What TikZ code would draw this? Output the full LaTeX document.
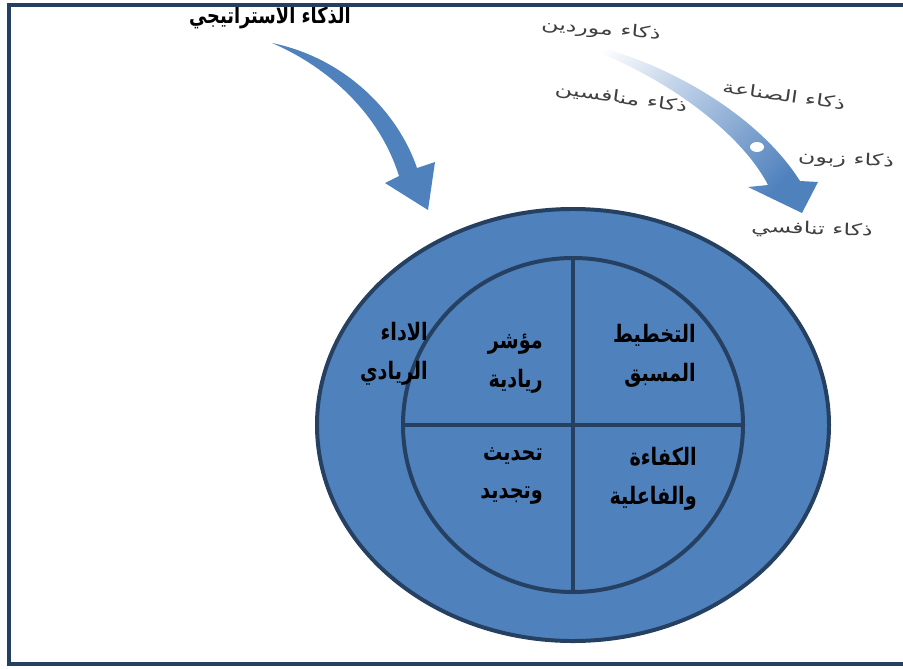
\documentclass[tikz,border=0pt]{standalone}
\usepackage{fontspec}
\newfontfamily\arabicfont[Script=Arabic]{DejaVu Sans}
\TeXXeTstate=1
\usetikzlibrary{shapes.geometric}
\definecolor{ringblue}{HTML}{4F81BD}
\definecolor{ringline}{HTML}{254061}
\definecolor{frameline}{HTML}{243F60}
\newcommand{\artxt}[1]{\scalebox{0.8}[1]{\beginR #1\endR}}
\newcommand{\widetxt}[1]{\scalebox{1.45}[1]{\beginR #1\endR}}
\tikzset{
  ring/.style={
    ellipse, draw=ringline, fill=ringblue,
    line width=3.4pt, inner sep=0pt, outer sep=0pt
  },
  divider/.style={draw=ringline, line width=3.4pt},
  cell/.style={
    font=\arabicfont\bfseries\fontsize{20.5}{33}\selectfont,
    align=right, anchor=north east, inner sep=0pt, text=black
  },
  headline/.style={
    font=\arabicfont\bfseries\fontsize{19}{22}\selectfont,
    inner sep=0pt, text=black
  },
  feed/.style={
    font=\arabicfont\fontsize{14}{16}\selectfont,
    inner sep=0pt, text=black!75
  },
}

\begin{document}
\begin{tikzpicture}[x=0.03cm, y=-0.03cm]
  \useasboundingbox (0,0) rectangle (903,668);

  % ── Rings ────────────────────────────────────────────────────────────────
  \def\cx{573}
  \def\cy{425}
  \node[ring, minimum width=15.36cm, minimum height=12.96cm] (outer) at (\cx,\cy) {};
  \node[ring, minimum width=10.2cm, minimum height=10.02cm] (inner) at (\cx,\cy) {};
  \draw[divider] (inner.north) -- (inner.south);
  \draw[divider] (inner.west) -- (inner.east);

  % ── Cell texts ───────────────────────────────────────────────────────────
  \node[cell] (plan) at (696,324) {\artxt{التخطيط}\\\artxt{المسبق}};
  \node[cell] (index) at (543,334) {\artxt{مؤشر}\\\artxt{ريادية}};
  \node[cell] (perf) at (428,322) {\artxt{الاداء}\\\artxt{الريادي}};
  \node[cell] (effic) at (697,447) {\artxt{الكفاءة}\\\artxt{والفاعلية}};
  \node[cell] (renew) at (543,447) {\artxt{تحديث}\\\artxt{وتجديد}};

  % ── Left arrow ───────────────────────────────────────────────────────────
  \fill[ringblue] (272,43) .. controls (345,58) and (398,112) .. (417,168)
    -- (435,162) -- (428,210) -- (385,183) -- (399,176)
    .. controls (380,115) and (330,68) .. (272,43) -- cycle;

  % ── Right arrow (faded) ──────────────────────────────────────────────────
  \shade[top color=white, middle color=ringblue!65, bottom color=ringblue,
         shading angle=45]
    (548,36) .. controls (650,50) and (755,110) .. (800,181)
    -- (818,182) -- (802,213) -- (748,187) -- (768,185)
    .. controls (740,130) and (650,62) .. (548,36) -- cycle;
  \fill[white] (757,147) ellipse [x radius=7, y radius=5];

  % ── Labels ───────────────────────────────────────────────────────────────
  \node[headline] (head) at (270,18) {\artxt{الذكاء الاستراتيجي}};
  \node[feed, rotate=-5] (supp) at (601,30) {\widetxt{ذكاء موردين}};
  \node[feed, rotate=-8] (indus) at (784,95) {\widetxt{ذكاء الصناعة}};
  \node[feed, rotate=-8] (comp) at (621,99) {\widetxt{ذكاء منافسين}};
  \node[feed, rotate=-3] (cust) at (846,160) {\widetxt{ذكاء زبون}};
  \node[feed, rotate=-2] (compet) at (812,230) {\widetxt{ذكاء تنافسي}};

  % ── Frame ────────────────────────────────────────────────────────────────
  \draw[frameline, line width=3.6pt] (903,5) -- (9,5) -- (9,664) -- (903,664);
\end{tikzpicture}
\end{document}
